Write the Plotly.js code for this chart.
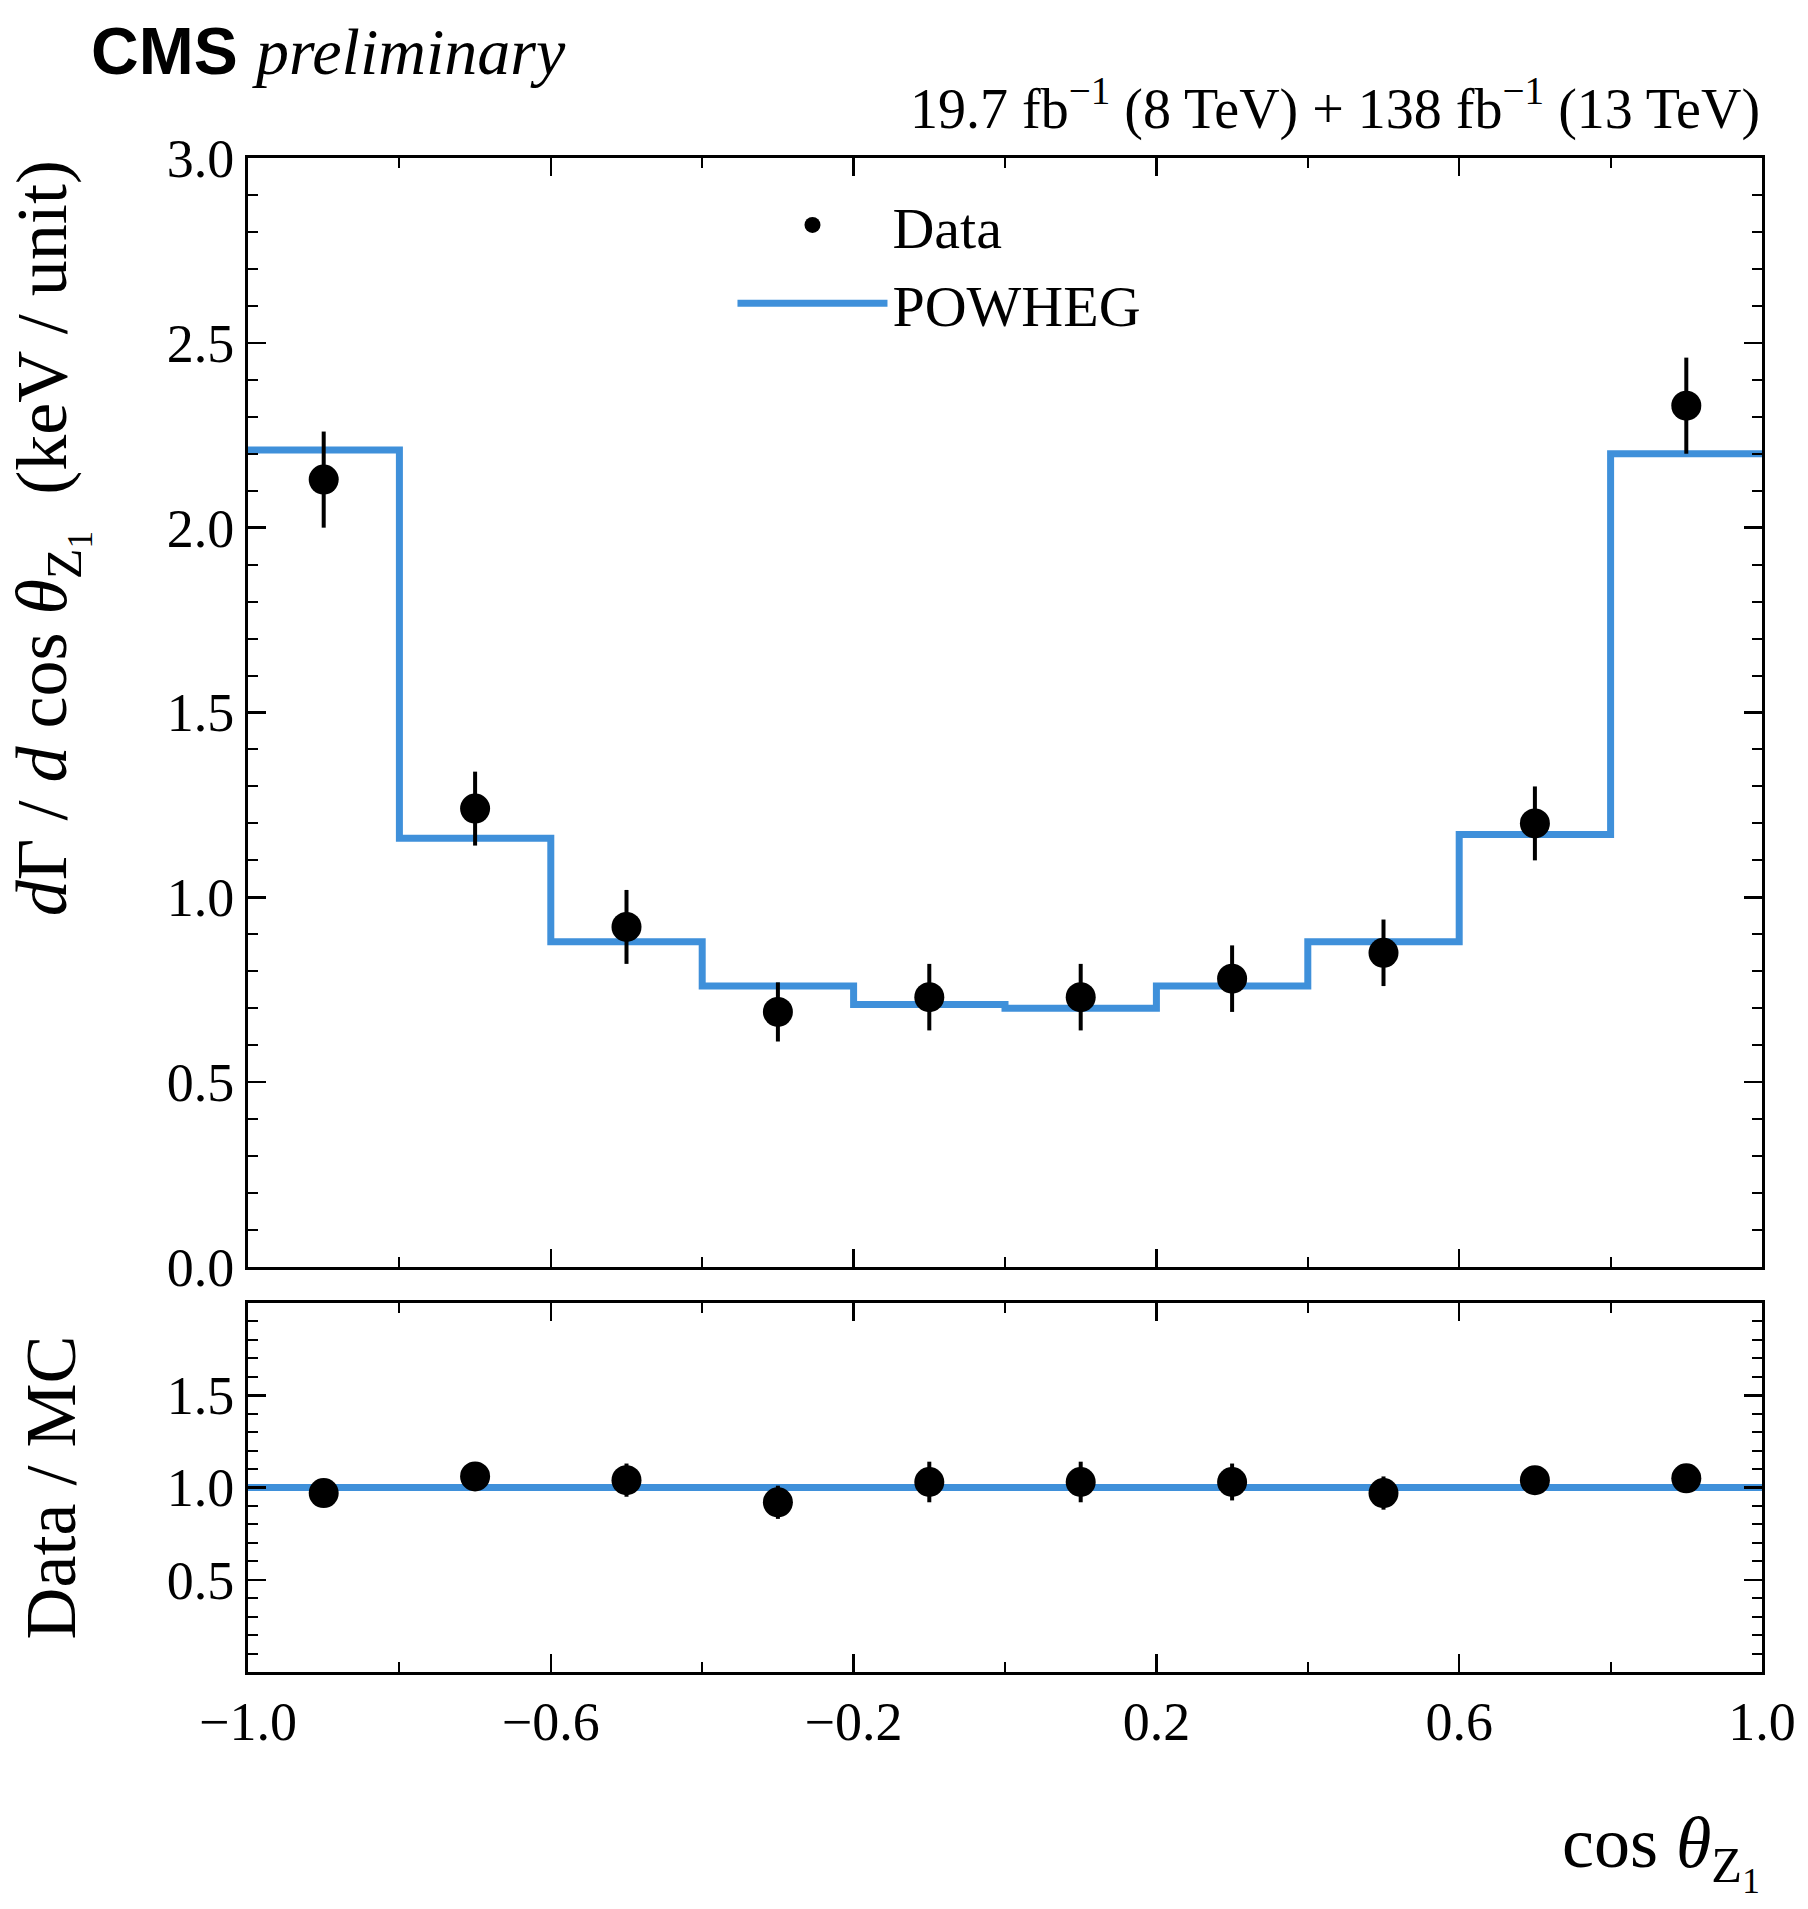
<!DOCTYPE html>
<html>
<head>
<meta charset="utf-8">
<script src="https://cdn.plot.ly/plotly-3.0.1.min.js"></script>
<style>body{margin:0;background:#fff}</style>
</head>
<body>
<div id="chart" style="width:1808px;height:1909px"></div>
<script>
// bin centres and edges of cos theta_Z1
var centres = [-0.9, -0.7, -0.5, -0.3, -0.1, 0.1, 0.3, 0.5, 0.7, 0.9];
var edges = [-1.0, -0.8, -0.6, -0.4, -0.2, 0.0, 0.2, 0.4, 0.6, 0.8, 1.0];

var dataVals = [2.13, 1.24, 0.92, 0.69, 0.73, 0.73, 0.78, 0.85, 1.20, 2.33];
var dataErr = [0.13, 0.10, 0.10, 0.08, 0.09, 0.09, 0.09, 0.09, 0.10, 0.13];
var powheg = [2.21, 1.16, 0.88, 0.76, 0.71, 0.70, 0.76, 0.88, 1.17, 2.20];

var ratioVals = [0.97, 1.06, 1.04, 0.92, 1.03, 1.03, 1.03, 0.97, 1.04, 1.05];
var ratioErr = [0.06, 0.06, 0.09, 0.09, 0.11, 0.11, 0.10, 0.09, 0.06, 0.06];
var ratioLine = [1, 1, 1, 1, 1, 1, 1, 1, 1, 1];

var blue = '#3f90da';
var serif = 'Liberation Serif, DejaVu Serif, serif';

function stepY(v) { return v.concat([v[v.length - 1]]); }

var traces =
[
    {
        x: edges, y: stepY(powheg), mode: 'lines', line: {shape: 'hv', color: blue, width: 7},
        name: 'POWHEG', xaxis: 'x', yaxis: 'y', legendrank: 2
    },
    {
        x: centres, y: dataVals, mode: 'markers', name: 'Data',
        marker: {color: 'black', size: 30},
        error_y: {type: 'data', array: dataErr, color: 'black', thickness: 4, width: 0},
        xaxis: 'x', yaxis: 'y', legendrank: 1
    },
    {
        x: edges, y: stepY(ratioLine), mode: 'lines', line: {shape: 'hv', color: blue, width: 7},
        showlegend: false, xaxis: 'x2', yaxis: 'y2'
    },
    {
        x: centres, y: ratioVals, mode: 'markers', showlegend: false,
        marker: {color: 'black', size: 30},
        error_y: {type: 'data', array: ratioErr, color: 'black', thickness: 4, width: 0},
        xaxis: 'x2', yaxis: 'y2'
    }
];

function axisBase()
{
    return {
        showgrid: false, zeroline: false, showline: true, mirror: 'allticks',
        linecolor: 'black', linewidth: 3, ticks: 'inside', ticklen: 18, tickwidth: 2.5,
        tickcolor: 'black', tickfont: {family: serif, size: 54, color: 'black'}
    };
}

var xTop = axisBase();
Object.assign(xTop, {range: [-1, 1], dtick: 0.4, tick0: -1, showticklabels: false, anchor: 'y', matches: 'x2',
    minor: {dtick: 0.2, ticks: 'inside', ticklen: 10, tickcolor: 'black', tickwidth: 2}});
var xBot = axisBase();
Object.assign(xBot, {range: [-1, 1], dtick: 0.4, tick0: -1, anchor: 'y2', tickformat: '.1f',
    minor: {dtick: 0.2, ticks: 'inside', ticklen: 10, tickcolor: 'black', tickwidth: 2}});
var yTop = axisBase();
Object.assign(yTop, {domain: [0.2675, 1], range: [0, 3], dtick: 0.5, tickformat: '.1f', anchor: 'x',
    minor: {dtick: 0.1, ticks: 'inside', ticklen: 10, tickcolor: 'black', tickwidth: 2}});
var yBot = axisBase();
Object.assign(yBot, {domain: [0, 0.2437], range: [0, 2], tickvals: [0.5, 1.0, 1.5], ticktext: ['0.5', '1.0', '1.5'], anchor: 'x2',
    minor: {dtick: 0.1, ticks: 'inside', ticklen: 10, tickcolor: 'black', tickwidth: 2}});

var layout =
{
    width: 1808, height: 1909,
    margin: {l: 248, r: 46, t: 158, b: 237},
    paper_bgcolor: 'white', plot_bgcolor: 'white',
    xaxis: xTop, yaxis: yTop, xaxis2: xBot, yaxis2: yBot,
    showlegend: true,
    legend:
    {
        x: 0.32, y: 0.985, xanchor: 'left', yanchor: 'top', bgcolor: 'rgba(0,0,0,0)',
        font: {family: serif, size: 58, color: 'black'}, itemwidth: 150
    },
    annotations:
    [
        {
            text: '<b>CMS</b> <i style="font-family:Liberation Serif">preliminary</i>', xref: 'paper', yref: 'paper',
            x: -0.105, y: 1.045, xanchor: 'left', yanchor: 'bottom', showarrow: false,
            font: {family: 'Liberation Sans, Arial, sans-serif', size: 66, color: 'black'}
        },
        {
            text: '19.7 fb<sup>\u22121</sup> (8 TeV) + 138 fb<sup>\u22121</sup> (13 TeV)', xref: 'paper', yref: 'paper',
            x: 1, y: 1.01, xanchor: 'right', yanchor: 'bottom', showarrow: false,
            font: {family: serif, size: 56, color: 'black'}
        },
        {
            text: '<i>d</i>\u0393 / <i>d</i> cos <i>\u03b8</i><sub>Z<sub>1</sub></sub>  (keV / unit)', xref: 'paper', yref: 'paper',
            x: -0.13, y: 1, xanchor: 'center', yanchor: 'top', textangle: -90, showarrow: false,
            font: {family: serif, size: 72, color: 'black'}
        },
        {
            text: 'Data / MC', xref: 'paper', yref: 'paper',
            x: -0.13, y: 0.122, xanchor: 'center', yanchor: 'middle', textangle: -90, showarrow: false,
            font: {family: serif, size: 72, color: 'black'}
        },
        {
            text: 'cos <i>\u03b8</i><sub>Z<sub>1</sub></sub>', xref: 'paper', yref: 'paper',
            x: 1, y: -0.085, xanchor: 'right', yanchor: 'top', showarrow: false,
            font: {family: serif, size: 72, color: 'black'}
        }
    ]
};

Plotly.newPlot('chart', traces, layout, {displayModeBar: false, staticPlot: true});
</script>
</body>
</html>
